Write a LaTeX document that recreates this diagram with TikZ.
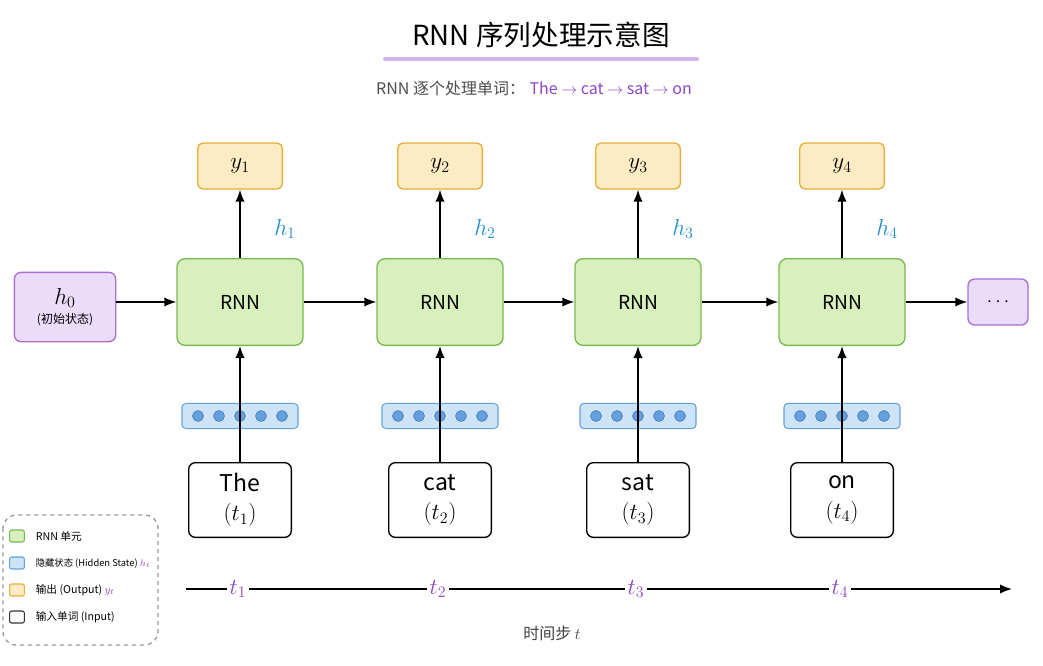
\documentclass[tikz,border=0pt]{standalone}
\usepackage{fontspec}
\setmainfont{Noto Sans CJK SC}
\usetikzlibrary{positioning,arrows.meta}
\definecolor{rnnfill}{RGB}{215,240,190}
\definecolor{rnndraw}{RGB}{120,185,80}
\definecolor{embfill}{RGB}{205,228,248}
\definecolor{embdraw}{RGB}{100,160,220}
\definecolor{dotfill}{RGB}{100,160,225}
\definecolor{outfill}{RGB}{253,236,195}
\definecolor{outdraw}{RGB}{230,175,60}
\definecolor{hidfill}{RGB}{235,220,250}
\definecolor{hiddraw}{RGB}{170,110,210}
\definecolor{wordcol}{RGB}{140,70,200}
\definecolor{hcol}{RGB}{30,140,200}
\tikzset{
	rnn/.style={draw=rnndraw, fill=rnnfill, line width=1pt, rounded corners=6pt, minimum width=94.5pt, minimum height=65pt, font=\Large},
	outbox/.style={draw=outdraw, fill=outfill, line width=1pt, rounded corners=4pt, minimum width=63.5pt, minimum height=34.5pt, font=\LARGE},
	emb/.style={draw=embdraw, fill=embfill, line width=0.8pt, rounded corners=3pt, minimum width=87pt, minimum height=19pt},
	word/.style={draw=black, fill=white, line width=1pt, rounded corners=5pt, minimum width=77pt, minimum height=56pt, align=center, font=\LARGE, inner sep=1pt},
	hid/.style={draw=hiddraw, fill=hidfill, line width=1pt, rounded corners=5pt, align=center},
	flow/.style={-{Latex[length=9pt,width=7pt]}, line width=1.2pt},
	leg/.style={draw, line width=0.8pt, rounded corners=1.5pt, minimum width=11pt, minimum height=9pt, inner sep=0pt},
	legtxt/.style={right=8pt, font=\footnotesize, inner sep=0pt}
}
\begin{document}
\begin{tikzpicture}[x=0.75pt,y=0.75pt,yscale=-1]
	\useasboundingbox (0,0) rectangle (1043,665);
	% title
	\node (title) at (541,35) {\huge RNN 序列处理示意图};
	\draw[wordcol!40, line width=3pt, line cap=round] (385,59) -- (697,59);
	\node (sub) at (534,88) {\large\color{black!70}RNN 逐个处理单词：\;\color{wordcol}The $\rightarrow$ cat $\rightarrow$ sat $\rightarrow$ on};
	% initial state and tail
	\node[hid, minimum width=76pt, minimum height=52pt] (h0) at (65,307) {\LARGE $h_0$\\[2pt]\small (初始状态)};
	\node[hid, minimum width=45pt, minimum height=34.5pt] (tail) at (998,302) {\Large $\cdots$};
	% columns
	\foreach \i/\x/\w in {1/240/The,2/440/cat,3/638/sat,4/842/on}{
		\node[rnn] (rnn\i) at (\x,302) {RNN};
		\node[outbox] (y\i) at (\x,166) {$y_{\i}$};
		\node[emb] (e\i) at (\x,416) {};
		\foreach \k in {-2,...,2}
			\fill[dotfill, draw=embdraw!70!black, line width=0.4pt] (\x+\k*21,416) circle (5.5);
		\node[word] (w\i) at (\x,500) {\w\\$(t_{\i})$};
		\draw[flow] (rnn\i) -- (y\i);
		\node[hcol, font=\LARGE] (hl\i) at (\x+45,229) {$h_{\i}$};
		\draw[flow] (w\i) -- (rnn\i);
	}
	\draw[flow] (h0.east |- rnn1.west) -- (rnn1);
	\draw[flow] (rnn1) -- (rnn2);
	\draw[flow] (rnn2) -- (rnn3);
	\draw[flow] (rnn3) -- (rnn4);
	\draw[flow] (rnn4) -- (tail);
	% time axis
	\coordinate (ta) at (186,589);
	\coordinate (tb) at (1012,589);
	\draw[-{Latex[length=9pt,width=7pt]}, line width=1.2pt] (ta) -- (tb);
	\foreach \i/\x in {1/238,2/438,3/636,4/840}
		\node[fill=white, text=wordcol, font=\LARGE, inner sep=2pt] (t\i) at (\x,589) {$t_{\i}$};
	\node (tlab) at (552,633) {\large\color{black!75}时间步 $t$};
	% legend
	\draw[black!40, dashed, line width=1pt, rounded corners=10pt] (3,515) rectangle (158,645);
	\node[leg, draw=rnndraw, fill=rnnfill] (l1) at (17,536) {};
	\node[legtxt] at (l1.east) {RNN 单元};
	\node[leg, draw=embdraw, fill=embfill] (l2) at (17,563) {};
	\node[legtxt, font=\scriptsize] at (l2.east) {隐藏状态 (Hidden State) \color{wordcol}$h_t$};
	\node[leg, draw=outdraw, fill=outfill] (l3) at (17,590) {};
	\node[legtxt] at (l3.east) {输出 (Output) \color{wordcol}$y_t$};
	\node[leg, draw=black!80, fill=white] (l4) at (17,617) {};
	\node[legtxt] at (l4.east) {输入单词 (Input)};
\end{tikzpicture}
\end{document}
